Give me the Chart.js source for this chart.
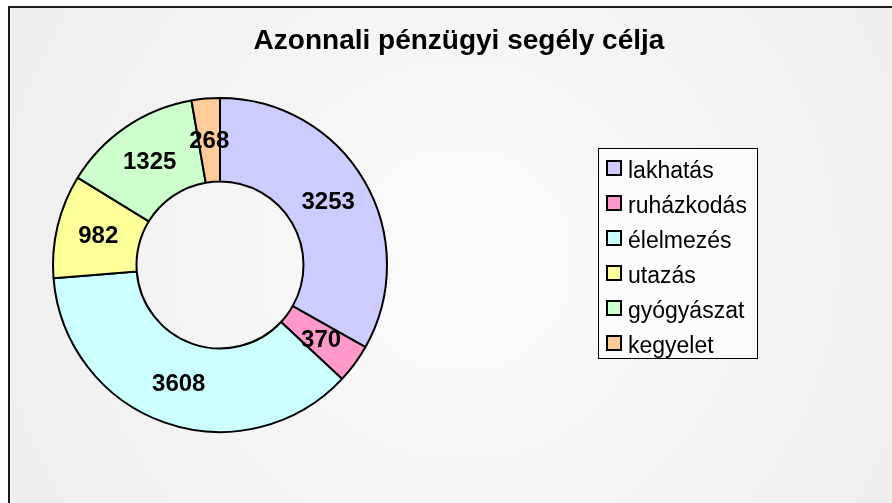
<!DOCTYPE html>
<html>
<head>
<meta charset="utf-8">
<script src="https://cdn.jsdelivr.net/npm/chart.js@4/dist/chart.umd.min.js"></script>
<style>
  html, body { margin: 0; padding: 0; background: #fff; }
  #wrap { width: 892px; height: 503px; }
</style>
</head>
<body>
<div id="wrap"><canvas id="myChart" width="892" height="503"></canvas></div>
<script>
// Chart data
const categories = ["lakhatás", "ruházkodás", "élelmezés", "utazás", "gyógyászat", "kegyelet"];
const amounts = [3253, 370, 3608, 982, 1325, 268];
const sliceColors = ["#CCCCFF", "#FF99CC", "#CCFFFF", "#FFFF99", "#CCFFCC", "#FFCC99"];
const chartTitle = "Azonnali pénzügyi segély célja";

const FONT = "'Liberation Sans', Arial, sans-serif";

// Frame + soft gradient background
const backgroundPlugin = {
    id: "background",
    beforeDraw: (chart) => {
        const ctx = chart.ctx;
        ctx.save();
        ctx.fillStyle = "#ffffff";
        ctx.fillRect(0, 0, chart.width, chart.height);
        let grad = ctx.createRadialGradient(460, 260, 0, 460, 260, 470);
        grad.addColorStop(0, "#fbfbfb");
        grad.addColorStop(1, "#efefef");
        ctx.fillStyle = grad;
        ctx.fillRect(9, 7, chart.width, chart.height);
        ctx.strokeStyle = "#1a1a1a";
        ctx.lineWidth = 2;
        ctx.strokeRect(9, 7, chart.width + 10, chart.height + 10);
        ctx.restore();
    },
};

// Values inside the ring
const sliceLabelsPlugin = {
    id: "sliceLabels",
    afterDatasetsDraw: (chart) => {
        const ctx = chart.ctx;
        const meta = chart.getDatasetMeta(0);
        ctx.save();
        ctx.font = "bold 24px " + FONT;
        ctx.fillStyle = "#000";
        ctx.textAlign = "center";
        ctx.textBaseline = "middle";
        meta.data.forEach((arc, i) => {
            const p = arc.getProps(["x", "y", "startAngle", "endAngle", "innerRadius", "outerRadius"], true);
            const mid = (p.startAngle + p.endAngle) / 2;
            const r = (p.innerRadius + p.outerRadius) / 2;
            ctx.fillText(String(chart.data.datasets[0].data[i]), p.x + Math.cos(mid) * r, p.y + Math.sin(mid) * r + 1);
        });
        ctx.restore();
    },
};

// Title and boxed legend
const titleLegendPlugin = {
    id: "titleLegend",
    afterDraw: (chart) => {
        const ctx = chart.ctx;
        ctx.save();
        ctx.fillStyle = "#000";
        ctx.font = "bold 28px " + FONT;
        ctx.textAlign = "center";
        ctx.textBaseline = "alphabetic";
        ctx.fillText(chartTitle, 459, 49);

        // legend box
        ctx.fillStyle = "#fcfcfc";
        ctx.fillRect(598, 148, 159, 210);
        ctx.strokeStyle = "#000";
        ctx.lineWidth = 1;
        ctx.strokeRect(598.5, 148.5, 159, 210);

        const ds = chart.data.datasets[0];
        ctx.font = "23px " + FONT;
        ctx.textAlign = "left";
        chart.data.labels.forEach((label, i) => {
            const cy = 168 + i * 35;
            ctx.fillStyle = ds.backgroundColor[i];
            ctx.fillRect(607, cy - 7, 14, 14);
            ctx.lineWidth = 2;
            ctx.strokeStyle = "#000";
            ctx.strokeRect(607, cy - 7, 14, 14);
            ctx.fillStyle = "#000";
            ctx.fillText(label, 628, cy + 10);
        });
        ctx.restore();
    },
};

const ctx = document.getElementById("myChart").getContext("2d");
const myChart = new Chart(ctx, {
    type: "doughnut",
    data: {
        labels: categories,
        datasets: [
            {
                data: amounts,
                backgroundColor: sliceColors,
                borderColor: "#000",
                borderWidth: 2,
            },
        ],
    },
    options: {
        responsive: false,
        animation: false,
        cutout: "50%",
        layout: { padding: { left: 52, top: 97, right: 504, bottom: 70 } },
        plugins: {
            legend: { display: false },
            title: { display: false },
            tooltip: { enabled: false },
        },
    },
    plugins: [backgroundPlugin, sliceLabelsPlugin, titleLegendPlugin],
});
</script>
</body>
</html>
